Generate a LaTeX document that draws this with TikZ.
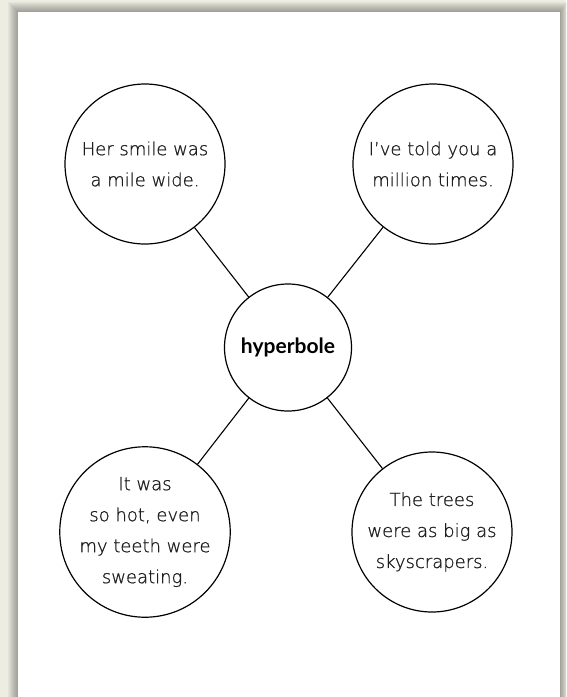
\documentclass[tikz,border=0pt]{standalone}
\usepackage{fontspec}
\IfFontExistsTF{DejaVu Sans ExtraLight}
  {\newfontfamily\handfont{DejaVu Sans ExtraLight}[FakeBold=0.9]}
  {\newfontfamily\handfont{DejaVu Sans}}
\newfontfamily\titlefont{Lato}
\definecolor{deskbg}{HTML}{EEEDE2}
\definecolor{inkgray}{HTML}{1E1E1E}
\tikzset{
  idea/.style={circle, draw=black, line width=1.2pt, fill=white,
    minimum size=160pt, inner sep=0pt, align=center, text=inkgray,
    font=\handfont\fontsize{18}{31}\selectfont},
  hub/.style={circle, draw=black, line width=1.2pt, fill=white,
    minimum size=127pt, inner sep=0pt, text=black,
    font=\titlefont\bfseries\fontsize{21}{24}\selectfont},
  spoke/.style={draw=black, line width=1.1pt}
}
\begin{document}
\begin{tikzpicture}[x=1pt,y=-1pt]
  % desk and page with a soft drop shadow
  \fill[deskbg] (0,0) rectangle (566,697);
  \useasboundingbox (0,0) rectangle (566,697);
  \foreach \d in {1,...,10}{
    \fill[black,opacity=0.035] (18-\d,12-\d) rectangle (560+0.7*\d,700);
  }
  \fill[white] (18,12) rectangle (560,700);

  % web of ideas
  \node[hub]  (hub) at (288,347.5) {hyperbole};
  \node[idea] (tl)  at (145,164) {Her smile was\\a mile wide.};
  \node[idea] (tr)  at (433,164) {I’ve told you a\\million times.};
  \node[idea] (bl)  at (145,532) {It was\\so hot, even\\my teeth were\\sweating.};
  \node[idea] (br)  at (432,532) {The trees\\were as big as\\skyscrapers.};

  \draw[spoke] (hub) -- (tl);
  \draw[spoke] (hub) -- (tr);
  \draw[spoke] (hub) -- (bl);
  \draw[spoke] (hub) -- (br);
\end{tikzpicture}
\end{document}
